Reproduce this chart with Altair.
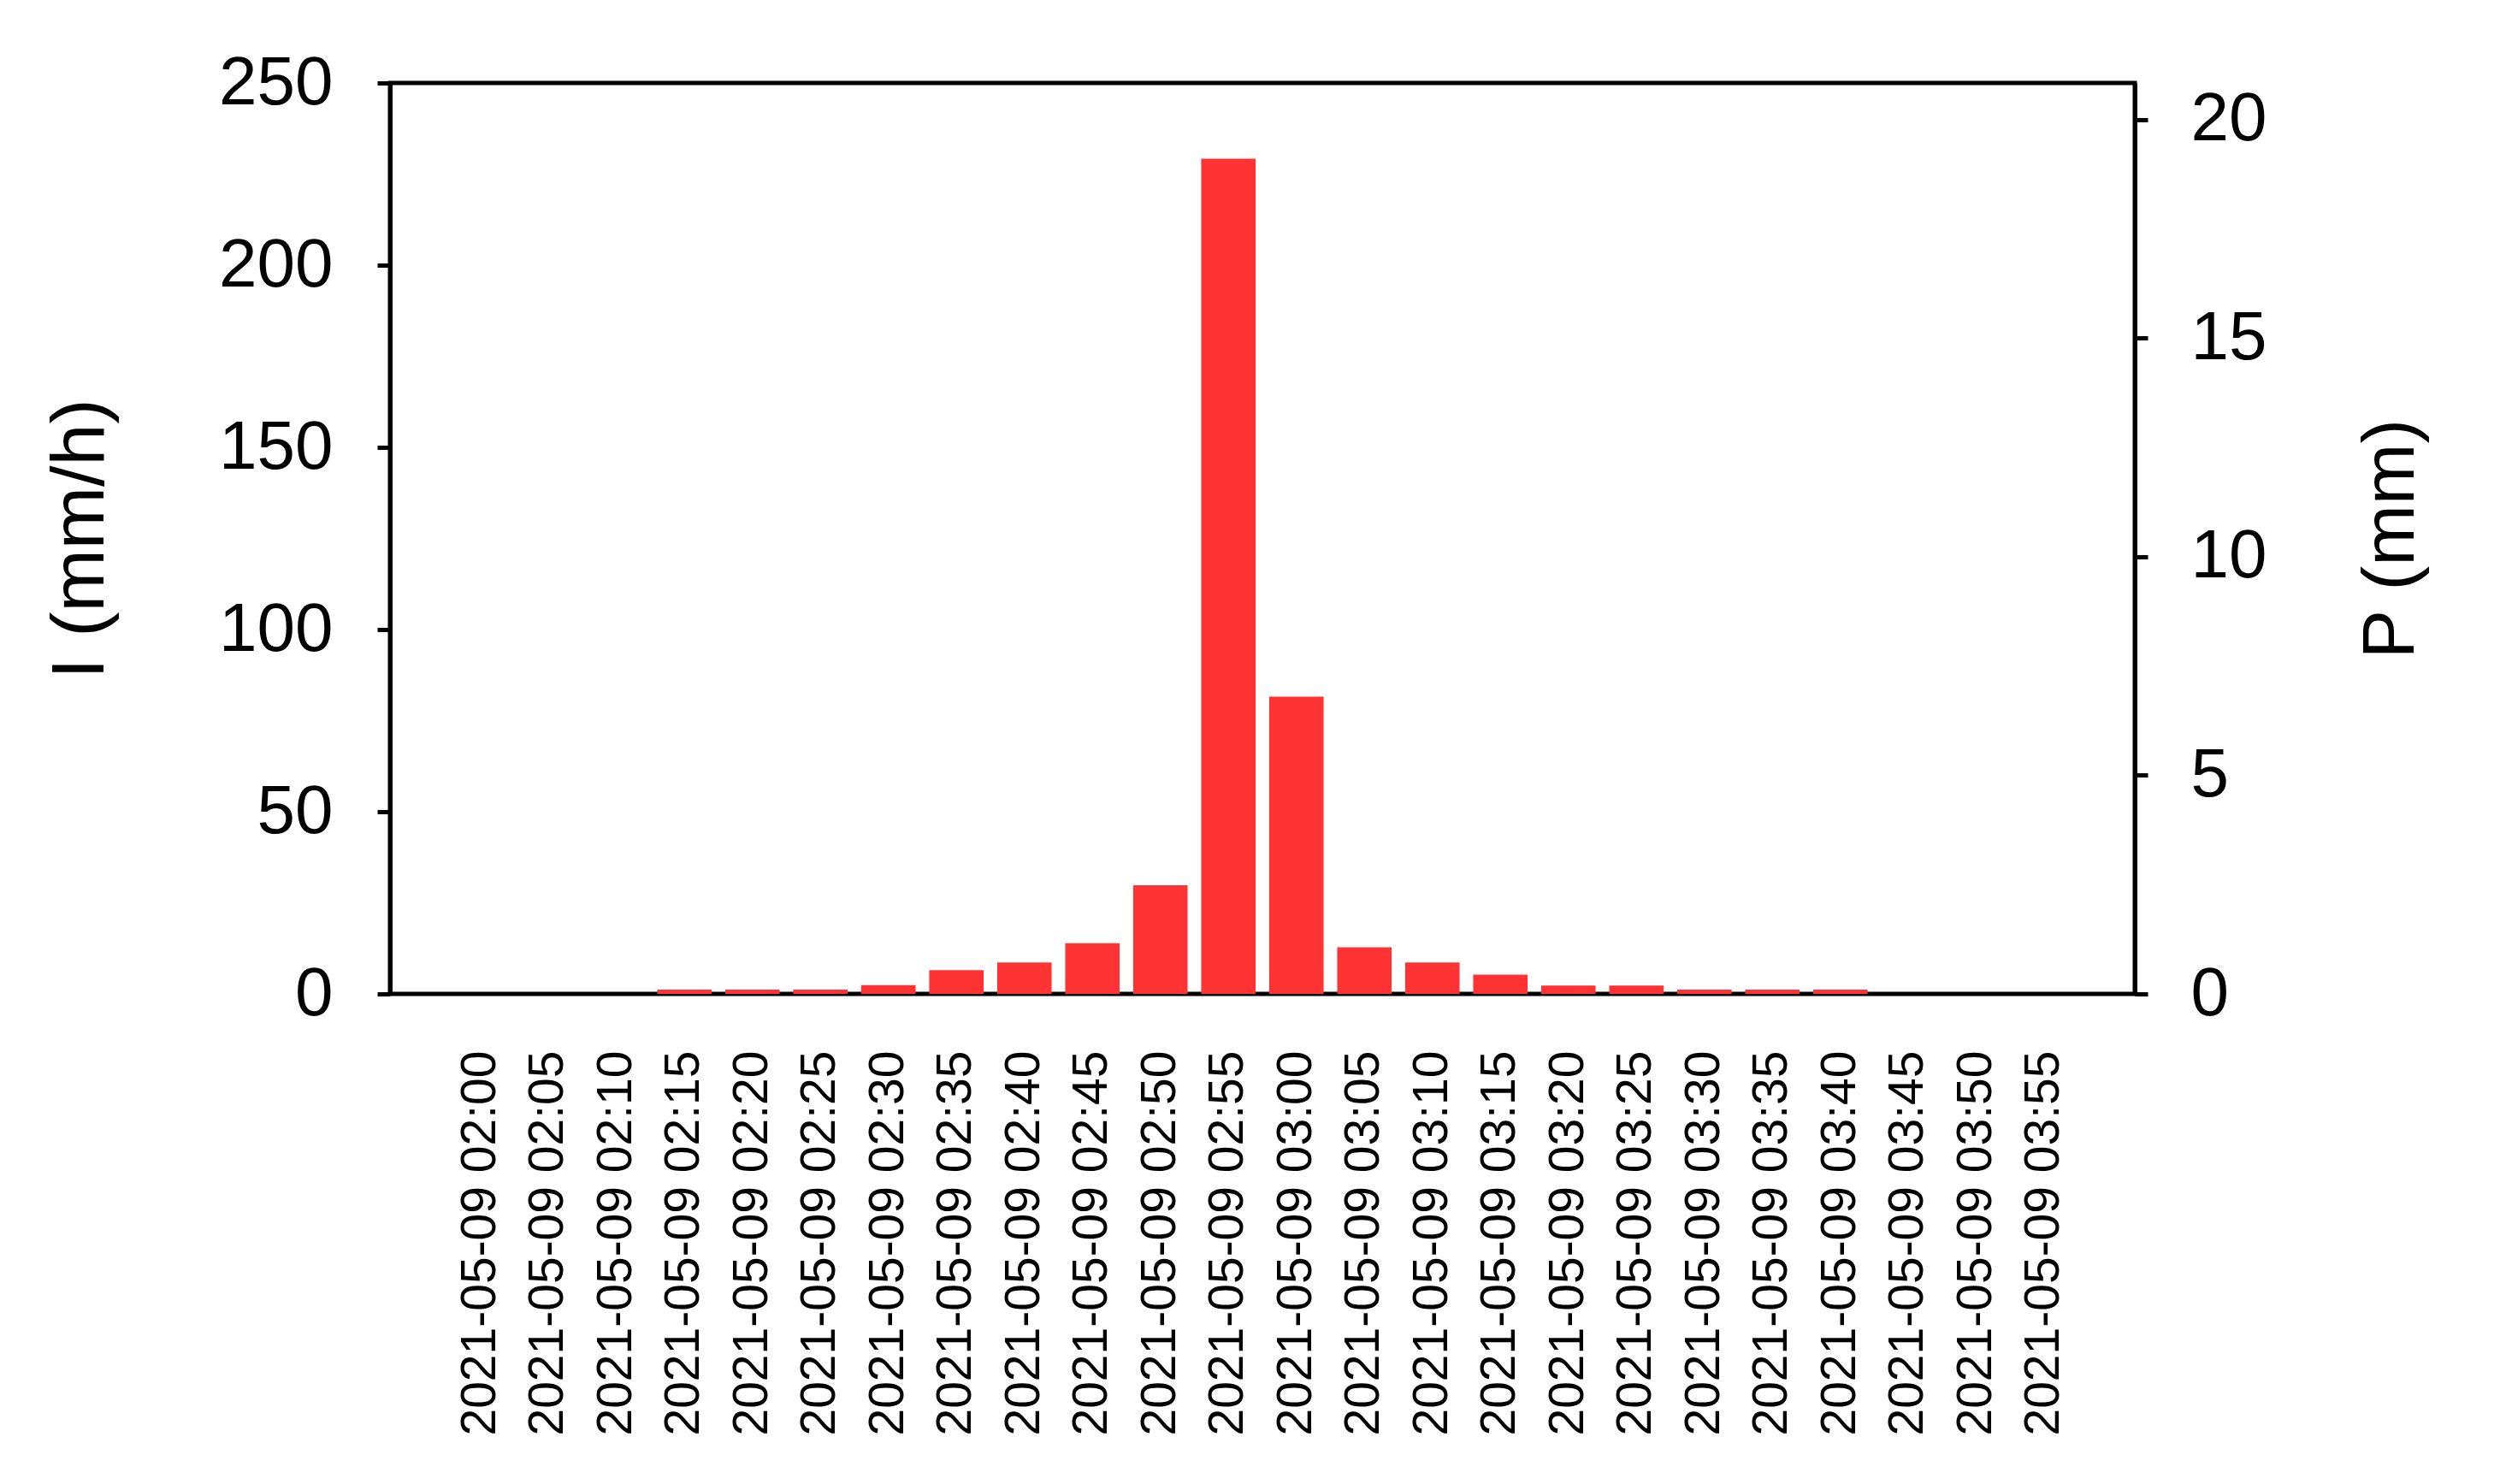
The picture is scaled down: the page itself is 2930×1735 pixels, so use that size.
import altair as alt
import pandas as pd

times = [
    "2021-05-09 02:00", "2021-05-09 02:05", "2021-05-09 02:10", "2021-05-09 02:15",
    "2021-05-09 02:20", "2021-05-09 02:25", "2021-05-09 02:30", "2021-05-09 02:35",
    "2021-05-09 02:40", "2021-05-09 02:45", "2021-05-09 02:50", "2021-05-09 02:55",
    "2021-05-09 03:00", "2021-05-09 03:05", "2021-05-09 03:10", "2021-05-09 03:15",
    "2021-05-09 03:20", "2021-05-09 03:25", "2021-05-09 03:30", "2021-05-09 03:35",
    "2021-05-09 03:40", "2021-05-09 03:45", "2021-05-09 03:50", "2021-05-09 03:55",
]
intensity = [0, 0, 0, 1.2, 1.2, 1.2, 2.4, 6.5, 8.6, 13.9, 29.8, 229.2,
             81.6, 12.8, 8.6, 5.3, 2.3, 2.3, 1.2, 1.2, 1.2, 0, 0, 0]
precip = [0, 0, 0, 0.1, 0.1, 0.1, 0.2, 0.54, 0.72, 1.16, 2.48, 19.1,
          6.8, 1.07, 0.72, 0.44, 0.19, 0.19, 0.1, 0.1, 0.1, 0, 0, 0]

left_ticks = [0, 50, 100, 150, 200, 250]
right_ticks = [0, 5, 10, 15, 20]

df = pd.DataFrame({"time": times, "I": intensity, "P": precip})

FONT = "Liberation Sans"

x_enc = alt.X(
    "time:N",
    sort=None,
    scale=alt.Scale(paddingInner=0.2, paddingOuter=0.93),
    axis=alt.Axis(
        title=None,
        labelAngle=270,
        labelFontSize=57,
        labelFont=FONT,
        labelColor="black",
        labelLimit=0,
        labelOverlap=False,
        ticks=False,
        domain=False,
        labelPadding=66,
        grid=False,
    ),
)

bars = alt.Chart(df).mark_bar(color="#FF3333").encode(
    x=x_enc,
    y=alt.Y(
        "I:Q",
        scale=alt.Scale(domain=[0, 250], nice=False),
        axis=alt.Axis(
            title="I (mm/h)",
            values=left_ticks,
            labelFontSize=80,
            labelFont=FONT,
            labelColor="black",
            titleFontSize=88,
            titleFont=FONT,
            titleFontWeight="normal",
            titleColor="black",
            titlePadding=118,
            tickSize=15,
            tickWidth=5,
            tickColor="black",
            labelPadding=52,
            domainColor="black",
            domainWidth=5,
            grid=False,
        ),
    ),
)

p_layer = alt.Chart(df).mark_bar(opacity=0).encode(
    x=x_enc,
    y=alt.Y(
        "P:Q",
        scale=alt.Scale(domain=[0, 250 / 12], nice=False),
        axis=alt.Axis(
            orient="right",
            title="P (mm)",
            values=right_ticks,
            labelFontSize=80,
            labelFont=FONT,
            labelColor="black",
            titleFontSize=86,
            titleFont=FONT,
            titleFontWeight="normal",
            titleColor="black",
            titleAngle=270,
            titlePadding=190,
            tickSize=15,
            tickWidth=5,
            tickColor="black",
            labelPadding=50,
            domainColor="black",
            domainWidth=5,
            grid=False,
        ),
    ),
)

chart = (
    alt.layer(bars, p_layer)
    .resolve_scale(y="independent")
    .properties(
        width=2040,
        height=1065,
        autosize=alt.AutoSizeParams(type="none"),
        padding={"left": 448, "top": 89, "right": 420, "bottom": 560},
        background="white",
    )
    .configure_view(stroke="black", strokeWidth=5)
)

chart.save("out.html", embed_options={"renderer": "svg", "actions": False})
